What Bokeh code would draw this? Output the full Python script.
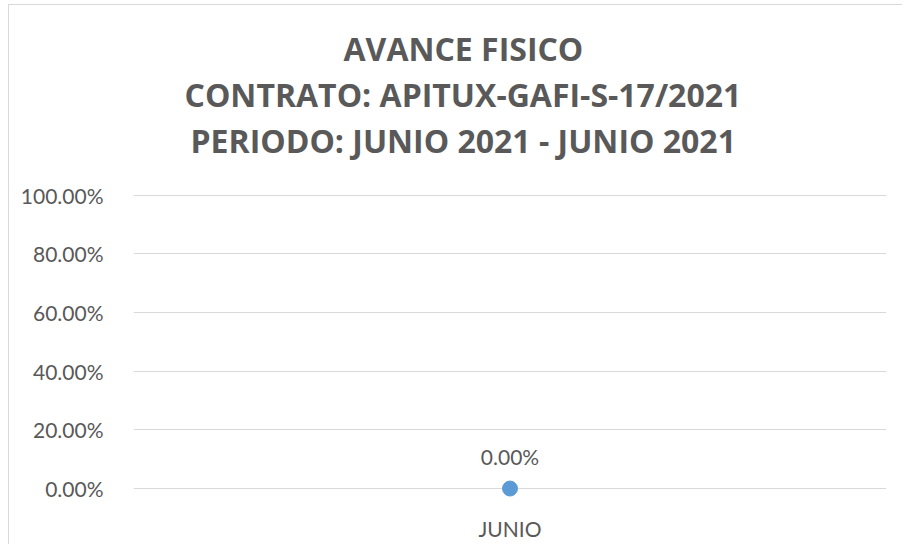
from bokeh.plotting import figure
from bokeh.models import FactorRange, Range1d, FixedTicker, Title, ColumnDataSource, NumeralTickFormatter
from bokeh.core.properties import value
from bokeh.embed import file_html
from bokeh.resources import INLINE

months = ["JUNIO"]
avance = [0.0]
data_labels = ["0.00%"]
y_ticks = [0.0, 0.2, 0.4, 0.6, 0.8, 1.0]
title_lines = ["AVANCE FISICO", "CONTRATO: APITUX-GAFI-S-17/2021", "PERIODO: JUNIO 2021 - JUNIO 2021"]

GRAY = "#595959"
GRID = "#d9d9d9"
BLUE = "#5B9BD5"

src = ColumnDataSource(dict(x=months, y=avance, lbl=data_labels))

p = figure(width=894, height=540, x_range=FactorRange(*months), y_range=Range1d(-0.0612, 1.002),
           output_backend="svg", toolbar_location=None,
           min_border_left=124, min_border_right=17, min_border_top=189, min_border_bottom=39)
p.margin = (4, 0, 0, 8)
p.styles = {"border-top": "1px solid #d9d9d9", "border-left": "1px solid #d9d9d9"}
p.outline_line_color = None
p.background_fill_color = "white"
p.border_fill_color = "white"

p.xgrid.grid_line_color = None
p.ygrid.grid_line_color = GRID
p.ygrid.grid_line_width = 1

p.yaxis.ticker = FixedTicker(ticks=y_ticks)
p.yaxis.formatter = NumeralTickFormatter(format="0.00%")
p.yaxis.axis_line_color = None
p.yaxis.major_tick_line_color = None
p.yaxis.minor_tick_line_color = None
p.yaxis.major_label_standoff = 24
p.yaxis.major_label_text_font = "Lato"
p.yaxis.major_label_text_font_size = "21px"
p.yaxis.major_label_text_color = GRAY

p.xaxis.axis_line_color = None
p.xaxis.major_tick_line_color = None
p.xaxis.minor_tick_line_color = None
p.xaxis.major_label_standoff = 3
p.xaxis.major_label_text_font = "Lato"
p.xaxis.major_label_text_font_size = "21px"
p.xaxis.major_label_text_color = GRAY

p.scatter("x", "y", source=src, size=15, fill_color=BLUE, line_color=BLUE)
p.text("x", "y", text="lbl", source=src, y_offset=-32, text_align="center", text_baseline="middle",
       text_font=value("Lato"), text_font_size="21px", text_color=GRAY)

# spacer between plot area and title block
p.add_layout(Title(text=" ", text_font="Open Sans", text_font_size="22px", standoff=0), "above")
offsets = [210, 51, 57]
for t, off in zip(reversed(title_lines), reversed(offsets)):
    p.add_layout(Title(text=t, align="left", offset=off, standoff=1,
                       text_font="Open Sans", text_font_style="bold", text_font_size="32px",
                       text_color=GRAY), "above")

open("out.html", "w").write(file_html(p, INLINE))
